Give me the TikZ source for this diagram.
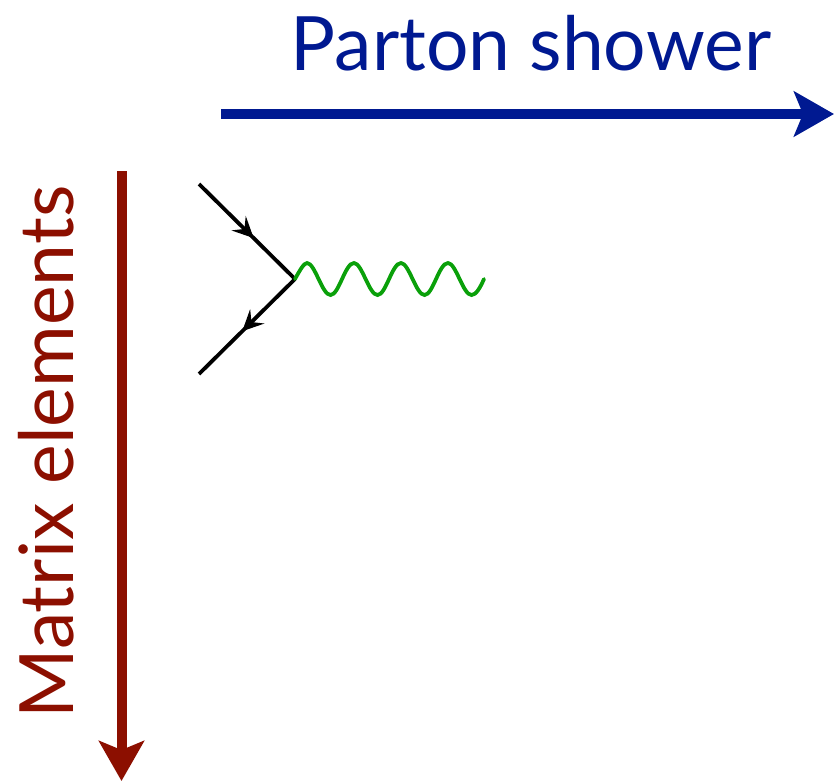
\documentclass[tikz,border=0pt]{standalone}
\usepackage{fontspec}
\setmainfont{Lato}
\usetikzlibrary{arrows.meta,decorations.markings}
\definecolor{psblue}{RGB}{0,25,145}
\definecolor{mered}{RGB}{140,15,0}
\definecolor{wavegreen}{RGB}{10,160,10}
\tikzset{
  axis/.style={line width=10pt,-{Stealth[length=40pt,width=45pt,inset=9pt]}},
  fermion/.style={line width=3.8pt,draw=black,postaction={decorate}},
  fermionA/.style={fermion,decoration={markings,mark=at position 0.57 with {\arrow{Stealth[length=21pt,width=20pt,inset=8pt]}}}},
  fermionB/.style={fermion,decoration={markings,mark=at position 0.55 with {\arrow{Stealth[length=21pt,width=20pt,inset=8pt]}}}},
  label/.style={inner sep=0pt,font=\fontsize{75}{80}\selectfont}
}
\begin{document}
\begin{tikzpicture}[x=1pt,y=-1pt]
\useasboundingbox (0,0) rectangle (834,781);
\coordinate (psL) at (221,114);
\coordinate (psR) at (834,114);
\coordinate (meT) at (121.5,171);
\coordinate (meB) at (121.5,781);
\coordinate (in) at (199,184);
\coordinate (out) at (199,374);
\coordinate (v) at (295,279);
\coordinate (w) at (484,279);
\draw[axis,psblue] (psL) -- (psR);
\draw[axis,mered] (meT) -- (meB);
\node[label,text=psblue,anchor=base] (pst) at (531,71) {Parton shower};
\node[label,text=mered,anchor=base,rotate=90] (met) at (73,452) {Matrix elements};
\draw[fermionA] (in) -- (v);
\draw[fermionB] (v) -- (out);
\draw[wavegreen,line width=3.8pt,line cap=round] (v)
  .. controls (300,270) and (304,263) .. (307,263)
  .. controls (315,263) and (322,295) .. (330.5,295)
  .. controls (339,295) and (345,263) .. (354,263)
  .. controls (362,263) and (369,295) .. (377.5,295)
  .. controls (386,295) and (392,263) .. (401,263)
  .. controls (409,263) and (416,295) .. (424.5,295)
  .. controls (433,295) and (439,263) .. (448,263)
  .. controls (456,263) and (463,295) .. (471.5,295)
  .. controls (476,295) and (480,288) .. (w);
\end{tikzpicture}
\end{document}
